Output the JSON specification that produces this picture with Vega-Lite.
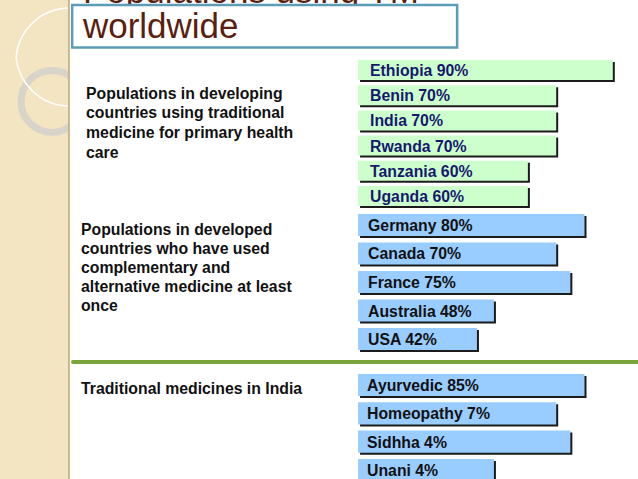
{
  "$schema": "https://vega.github.io/schema/vega-lite/v6.json",
  "padding": 0,
  "spacing": 0,
  "bounds": "flush",
  "background": "#ffffff",
  "config": {"view": {"stroke": null}, "font": "Liberation Sans"},
  "resolve": {"scale": {"x": "shared", "y": "independent"}},
  "datasets": {
    "one": [{}],
    "developing": [
      {"name": "Ethiopia", "label": "Ethiopia 90%", "bar": 90},
      {"name": "Benin", "label": "Benin 70%", "bar": 70},
      {"name": "India", "label": "India 70%", "bar": 70},
      {"name": "Rwanda", "label": "Rwanda 70%", "bar": 70},
      {"name": "Tanzania", "label": "Tanzania 60%", "bar": 60},
      {"name": "Uganda", "label": "Uganda 60%", "bar": 60}
    ],
    "developed": [
      {"name": "Germany", "label": "Germany 80%", "bar": 80},
      {"name": "Canada", "label": "Canada 70%", "bar": 70},
      {"name": "France", "label": "France 75%", "bar": 75},
      {"name": "Australia", "label": "Australia 48%", "bar": 48},
      {"name": "USA", "label": "USA 42%", "bar": 42}
    ],
    "india": [
      {"name": "Ayurvedic", "label": "Ayurvedic 85%", "bar": 80},
      {"name": "Homeopathy", "label": "Homeopathy 7%", "bar": 70},
      {"name": "Sidhha", "label": "Sidhha 4%", "bar": 75},
      {"name": "Unani", "label": "Unani 4%", "bar": 48}
    ]
  },
  "vconcat": [
    {
      "width": 638, "height": 57,
      "layer": [
        {"data": {"name": "one"}, "mark": {"type": "rect", "color": "#f3e4c2"},
         "encoding": {"x": {"datum": -126.5, "type": "quantitative", "scale": {"domain": [-126.5, 98.9], "nice": false, "zero": false}, "axis": null}, "x2": {"datum": -102.5}}},
        {"data": {"name": "one"}, "mark": {"type": "point", "shape": "circle", "size": 11690, "filled": false, "stroke": "#ffffff", "strokeWidth": 1.5, "opacity": 1, "clip": true},
         "encoding": {"x": {"datum": -101.8, "type": "quantitative", "scale": {"domain": [-126.5, 98.9], "nice": false, "zero": false}, "axis": null}, "y": {"datum": 62, "type": "quantitative", "scale": {"domain": [0, 57], "reverse": true, "nice": false, "zero": false}, "axis": null}}},
        {"data": {"name": "one"}, "mark": {"type": "rect", "color": "#ffffff"},
         "encoding": {"x": {"datum": -101.8, "type": "quantitative", "scale": {"domain": [-126.5, 98.9], "nice": false, "zero": false}, "axis": null}, "x2": {"datum": 98.9}}},
        {"data": {"name": "one"}, "mark": {"type": "rect", "color": "#cbb78f"},
         "encoding": {"x": {"datum": -102.5, "type": "quantitative", "scale": {"domain": [-126.5, 98.9], "nice": false, "zero": false}, "axis": null}, "x2": {"datum": -101.8}}},
        {"data": {"name": "one"}, "mark": {"type": "text", "text": "Populations using TM", "align": "left", "baseline": "alphabetic", "fontSize": 35, "color": "#5a1f10", "clip": true},
         "encoding": {"x": {"datum": -97.2, "type": "quantitative", "scale": {"domain": [-126.5, 98.9], "nice": false, "zero": false}, "axis": null}, "y": {"datum": 3, "type": "quantitative", "scale": {"domain": [0, 57], "reverse": true, "nice": false, "zero": false}, "axis": null}}},
        {"data": {"name": "one"}, "mark": {"type": "rect", "fill": "#ffffff", "stroke": "#5b9db6", "strokeWidth": 2.5},
         "encoding": {"x": {"datum": -101.0, "type": "quantitative", "scale": {"domain": [-126.5, 98.9], "nice": false, "zero": false}, "axis": null}, "x2": {"datum": 35.0}, "y": {"datum": 5, "type": "quantitative", "scale": {"domain": [0, 57], "reverse": true, "nice": false, "zero": false}, "axis": null}, "y2": {"datum": 47.5}}},
        {"data": {"name": "one"}, "mark": {"type": "text", "text": "worldwide", "align": "left", "baseline": "alphabetic", "fontSize": 35, "color": "#5a1f10"},
         "encoding": {"x": {"datum": -97.2, "type": "quantitative", "scale": {"domain": [-126.5, 98.9], "nice": false, "zero": false}, "axis": null}, "y": {"datum": 38, "type": "quantitative", "scale": {"domain": [0, 57], "reverse": true, "nice": false, "zero": false}, "axis": null}}}
      ]
    },
    {
      "width": 638, "height": 152,
      "layer": [
        {"data": {"name": "one"}, "mark": {"type": "rect", "color": "#f3e4c2"},
         "encoding": {"x": {"datum": -126.5, "type": "quantitative", "scale": {"domain": [-126.5, 98.9], "nice": false, "zero": false}, "axis": null}, "x2": {"datum": -102.5}}},
        {"data": {"name": "one"}, "mark": {"type": "point", "shape": "circle", "size": 3848, "filled": false, "stroke": "#d8d4c9", "strokeWidth": 7, "opacity": 1, "clip": true},
         "encoding": {"x": {"datum": -108.1, "type": "quantitative", "scale": {"domain": [-126.5, 98.9], "nice": false, "zero": false}, "axis": null}, "y": {"datum": "India", "type": "nominal", "scale": {"domain": ["Ethiopia", "Benin", "India", "Rwanda", "Tanzania", "Uganda"], "paddingInner": 0.206, "paddingOuter": 0.119}, "axis": null}, "yOffset": {"value": -9}}},
        {"data": {"name": "one"}, "mark": {"type": "point", "shape": "circle", "size": 11690, "filled": false, "stroke": "#ffffff", "strokeWidth": 1.5, "opacity": 1, "clip": true},
         "encoding": {"x": {"datum": -101.8, "type": "quantitative", "scale": {"domain": [-126.5, 98.9], "nice": false, "zero": false}, "axis": null}, "y": {"datum": "Ethiopia", "type": "nominal", "axis": null}, "yOffset": {"value": -8}}},
        {"data": {"name": "one"}, "mark": {"type": "rect", "color": "#ffffff"},
         "encoding": {"x": {"datum": -101.8, "type": "quantitative", "scale": {"domain": [-126.5, 98.9], "nice": false, "zero": false}, "axis": null}, "x2": {"datum": 98.9}}},
        {"data": {"name": "one"}, "mark": {"type": "rect", "color": "#cbb78f"},
         "encoding": {"x": {"datum": -102.5, "type": "quantitative", "scale": {"domain": [-126.5, 98.9], "nice": false, "zero": false}, "axis": null}, "x2": {"datum": -101.8}}},
        {"data": {"name": "one"}, "mark": {"type": "text", "text": ["Populations in developing", "countries using traditional", "medicine for primary health", "care"], "align": "left", "baseline": "alphabetic", "lineHeight": 19.7, "dy": 3.5, "fontSize": 15.8, "fontWeight": "bold", "color": "#111111"},
         "encoding": {"x": {"datum": -96.1, "type": "quantitative", "scale": {"domain": [-126.5, 98.9], "nice": false, "zero": false}, "axis": null}, "y": {"datum": "Benin", "type": "nominal", "axis": null}}},
        {"data": {"name": "developing"}, "mark": {"type": "bar", "color": "#1b1b1b", "xOffset": 2, "x2Offset": 2, "yOffset": 2, "y2Offset": 2},
         "encoding": {"x": {"field": "bar", "type": "quantitative", "scale": {"domain": [-126.5, 98.9], "nice": false, "zero": false}, "axis": null}, "x2": {"datum": 0}, "y": {"field": "name", "type": "nominal", "axis": null}}},
        {"data": {"name": "developing"}, "mark": {"type": "bar", "color": "#ccffcc"},
         "encoding": {"x": {"field": "bar", "type": "quantitative", "scale": {"domain": [-126.5, 98.9], "nice": false, "zero": false}, "axis": null}, "x2": {"datum": 0}, "y": {"field": "name", "type": "nominal", "axis": null}}},
        {"data": {"name": "developing"}, "mark": {"type": "text", "align": "left", "baseline": "middle", "dx": 12, "dy": 1, "fontSize": 15.8, "fontWeight": "bold", "color": "#16186c"},
         "encoding": {"x": {"datum": 0, "type": "quantitative", "scale": {"domain": [-126.5, 98.9], "nice": false, "zero": false}, "axis": null}, "y": {"field": "name", "type": "nominal", "axis": null}, "text": {"field": "label"}}}
      ]
    },
    {
      "width": 638, "height": 146,
      "layer": [
        {"data": {"name": "one"}, "mark": {"type": "rect", "color": "#f3e4c2"},
         "encoding": {"x": {"datum": -126.5, "type": "quantitative", "scale": {"domain": [-126.5, 98.9], "nice": false, "zero": false}, "axis": null}, "x2": {"datum": -102.5}}},
        {"data": {"name": "one"}, "mark": {"type": "rect", "color": "#cbb78f"},
         "encoding": {"x": {"datum": -102.5, "type": "quantitative", "scale": {"domain": [-126.5, 98.9], "nice": false, "zero": false}, "axis": null}, "x2": {"datum": -101.8}}},
        {"data": {"name": "one"}, "mark": {"type": "text", "text": ["Populations in developed", "countries who have used", "complementary and", "alternative medicine at least", "once"], "align": "left", "baseline": "alphabetic", "lineHeight": 19, "dy": 10.5, "fontSize": 15.8, "fontWeight": "bold", "color": "#111111"},
         "encoding": {"x": {"datum": -97.9, "type": "quantitative", "scale": {"domain": [-126.5, 98.9], "nice": false, "zero": false}, "axis": null}, "y": {"datum": "Germany", "type": "nominal", "scale": {"domain": ["Germany", "Canada", "France", "Australia", "USA"], "paddingInner": 0.228, "paddingOuter": 0.175}, "axis": null}}},
        {"data": {"name": "developed"}, "mark": {"type": "bar", "color": "#1b1b1b", "xOffset": 2, "x2Offset": 2, "yOffset": 2, "y2Offset": 2},
         "encoding": {"x": {"field": "bar", "type": "quantitative", "scale": {"domain": [-126.5, 98.9], "nice": false, "zero": false}, "axis": null}, "x2": {"datum": 0}, "y": {"field": "name", "type": "nominal", "axis": null}}},
        {"data": {"name": "developed"}, "mark": {"type": "bar", "color": "#99ccff"},
         "encoding": {"x": {"field": "bar", "type": "quantitative", "scale": {"domain": [-126.5, 98.9], "nice": false, "zero": false}, "axis": null}, "x2": {"datum": 0}, "y": {"field": "name", "type": "nominal", "axis": null}}},
        {"data": {"name": "developed"}, "mark": {"type": "text", "align": "left", "baseline": "middle", "dx": 10, "dy": 1, "fontSize": 15.8, "fontWeight": "bold", "color": "#111111"},
         "encoding": {"x": {"datum": 0, "type": "quantitative", "scale": {"domain": [-126.5, 98.9], "nice": false, "zero": false}, "axis": null}, "y": {"field": "name", "type": "nominal", "axis": null}, "text": {"field": "label"}}}
      ]
    },
    {
      "width": 638, "height": 124,
      "layer": [
        {"data": {"name": "one"}, "mark": {"type": "rect", "color": "#f3e4c2"},
         "encoding": {"x": {"datum": -126.5, "type": "quantitative", "scale": {"domain": [-126.5, 98.9], "nice": false, "zero": false}, "axis": null}, "x2": {"datum": -102.5}}},
        {"data": {"name": "one"}, "mark": {"type": "rect", "color": "#cbb78f"},
         "encoding": {"x": {"datum": -102.5, "type": "quantitative", "scale": {"domain": [-126.5, 98.9], "nice": false, "zero": false}, "axis": null}, "x2": {"datum": -101.8}}},
        {"data": {"name": "one"}, "mark": {"type": "rule", "color": "#7aa43c", "strokeWidth": 4, "strokeCap": "round", "yOffset": -23},
         "encoding": {"x": {"datum": -100.7, "type": "quantitative", "scale": {"domain": [-126.5, 98.9], "nice": false, "zero": false}, "axis": null}, "x2": {"datum": 98.9}, "y": {"datum": "Ayurvedic", "type": "nominal", "scale": {"domain": ["Ayurvedic", "Homeopathy", "Sidhha", "Unani"], "range": [19, 126], "paddingInner": 0.22, "paddingOuter": 0}, "axis": null}}},
        {"data": {"name": "one"}, "mark": {"type": "text", "text": "Traditional medicines in India", "align": "left", "baseline": "alphabetic", "dy": 8.5, "fontSize": 15.8, "fontWeight": "bold", "color": "#111111"},
         "encoding": {"x": {"datum": -97.9, "type": "quantitative", "scale": {"domain": [-126.5, 98.9], "nice": false, "zero": false}, "axis": null}, "y": {"datum": "Ayurvedic", "type": "nominal", "axis": null}}},
        {"data": {"name": "india"}, "mark": {"type": "bar", "color": "#1b1b1b", "xOffset": 2, "x2Offset": 2, "yOffset": 2, "y2Offset": 2, "clip": true},
         "encoding": {"x": {"field": "bar", "type": "quantitative", "scale": {"domain": [-126.5, 98.9], "nice": false, "zero": false}, "axis": null}, "x2": {"datum": 0}, "y": {"field": "name", "type": "nominal", "axis": null}}},
        {"data": {"name": "india"}, "mark": {"type": "bar", "color": "#99ccff", "clip": true},
         "encoding": {"x": {"field": "bar", "type": "quantitative", "scale": {"domain": [-126.5, 98.9], "nice": false, "zero": false}, "axis": null}, "x2": {"datum": 0}, "y": {"field": "name", "type": "nominal", "axis": null}}},
        {"data": {"name": "india"}, "mark": {"type": "text", "align": "left", "baseline": "middle", "dx": 9, "dy": 1, "fontSize": 15.8, "fontWeight": "bold", "color": "#111111", "clip": true},
         "encoding": {"x": {"datum": 0, "type": "quantitative", "scale": {"domain": [-126.5, 98.9], "nice": false, "zero": false}, "axis": null}, "y": {"field": "name", "type": "nominal", "axis": null}, "text": {"field": "label"}}}
      ]
    }
  ]
}
